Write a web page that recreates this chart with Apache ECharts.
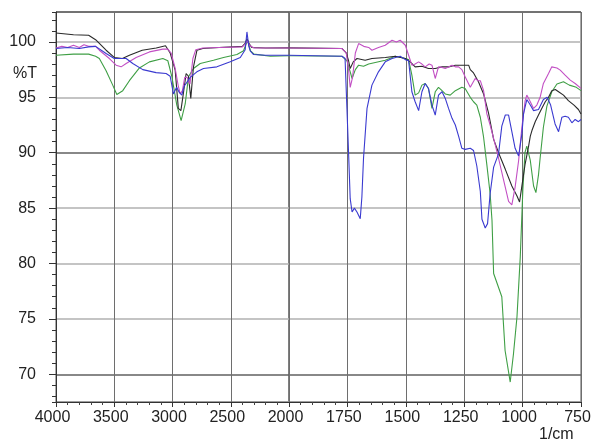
<!DOCTYPE html>
<html>
<head>
<meta charset="utf-8">
<title>IR spectrum</title>
<script src="https://cdn.jsdelivr.net/npm/echarts@6/dist/echarts.min.js"></script>
<style>
  html, body { margin: 0; padding: 0; background: #fff; }
  #chart { width: 595px; height: 444px; }
</style>
</head>
<body>
<div id="chart"></div>
<script>
  // x axis is split: 4000-2000 compressed, 2000-750 expanded (2x)
  const xTicksLeft = [4000, 3500, 3000, 2500, 2000]
  const xTicksRight = [2000, 1750, 1500, 1250, 1000, 750]
  const yTicks = [70, 75, 80, 85, 90, 95, 100]

  const blackWn = [4000, 3850, 3720, 3660, 3570, 3500, 3430, 3370, 3260, 3140, 3060, 3020, 2977, 2950, 2928, 2906, 2883, 2863, 2843, 2820, 2790, 2740, 2600, 2400, 2375, 2361, 2345, 2320, 2200, 2000,
    1773, 1755, 1745, 1738, 1725, 1709, 1674, 1645, 1588, 1545, 1502, 1481, 1460, 1431, 1403, 1374, 1345, 1317, 1288, 1231, 1224, 1210, 1189, 1167, 1146, 1124, 1103, 1074, 1046, 1024, 1013,
    1003, 989, 975, 967, 960, 946, 932, 918, 903, 889, 875, 860, 846, 825, 804, 780, 761, 750]
  const blackT = [100.8, 100.65, 100.6, 100.2, 99.25, 98.6, 98.5, 98.8, 99.25, 99.45, 99.65, 99.0, 97.45, 94.0, 93.8, 95.4, 97.15, 96.9, 94.9, 97.75, 99.25, 99.4, 99.5, 99.6, 99.9, 100.3, 99.9, 99.5, 99.45, 99.46,
    99.4, 99.0, 98.3, 97.6, 98.2, 98.5, 98.35, 98.5, 98.6, 98.7, 98.5, 98.2, 97.75, 97.8, 97.6, 97.6, 97.75, 97.75, 97.9, 97.9, 97.5, 97.2, 96.4, 95.3, 93.6, 91.2, 90.0, 88.5, 87.0, 86.1, 85.55,
    87.0, 89.0, 90.5, 91.5, 92.0, 92.8, 93.4, 94.0, 94.6, 95.0, 95.6, 95.7, 95.5, 95.2, 94.7, 94.3, 93.9, 93.5]

  const magentaWn = [4000, 3950, 3900, 3850, 3800, 3760, 3720, 3660, 3628, 3542, 3484, 3441, 3398, 3312, 3198, 3083, 3040, 3012, 2977, 2950, 2934, 2915, 2895, 2875, 2850, 2825, 2800, 2740, 2600, 2400, 2370, 2358, 2340, 2300, 2000,
    1773, 1755, 1745, 1738, 1728, 1716, 1702, 1680, 1659, 1645, 1617, 1588, 1559, 1540, 1524, 1502, 1488, 1474, 1460, 1445, 1431, 1417, 1400, 1388, 1374, 1360, 1345, 1331, 1302, 1288, 1274, 1260, 1246, 1224, 1203, 1190, 1181,
    1167, 1153, 1139, 1117, 1103, 1082, 1060, 1046, 1032, 1017, 1003, 989, 982, 967, 953, 939, 925, 911, 889, 875, 853, 839, 818, 796, 775, 750]
  const magentaT = [99.45, 99.6, 99.5, 99.7, 99.5, 99.75, 99.6, 99.6, 99.25, 98.5, 97.9, 97.75, 98.05, 98.6, 99.1, 99.35, 99.35, 99.0, 97.6, 96.0, 95.3, 95.6, 96.8, 96.8, 96.2, 98.5, 99.3, 99.45, 99.5, 99.55, 99.9, 100.1, 99.7, 99.45, 99.45,
    99.4, 99.0, 97.5, 95.9, 96.8, 99.0, 99.85, 99.6, 99.5, 99.25, 99.5, 99.7, 100.15, 100.0, 100.15, 99.7, 98.8, 97.9, 98.0, 98.2, 98.0, 97.75, 98.0, 97.9, 96.7, 97.75, 97.7, 97.6, 97.9, 97.75, 97.75, 97.5, 96.85, 95.9, 96.7, 96.5, 96.5,
    95.6, 93.5, 92.5, 90.7, 89.5, 87.6, 85.6, 85.3, 86.9, 89.3, 92.3, 94.7, 95.2, 94.6, 94.0, 94.3, 95.0, 96.25, 97.15, 97.75, 97.65, 97.45, 97.0, 96.55, 96.25, 95.8]

  const greenWn = [4000, 3850, 3720, 3660, 3628, 3570, 3513, 3478, 3427, 3370, 3284, 3198, 3083, 3040, 3006, 2963, 2926, 2891, 2863, 2820, 2762, 2648, 2562, 2447, 2390, 2356, 2330, 2300, 2160, 2000,
    1773, 1752, 1738, 1730, 1716, 1702, 1681, 1659, 1588, 1545, 1502, 1488, 1474, 1460, 1445, 1431, 1417, 1403, 1388, 1374, 1360, 1345, 1331, 1310, 1288, 1260, 1246, 1238, 1224, 1210, 1196, 1181,
    1167, 1153, 1139, 1131, 1124, 1089, 1075, 1053, 1039, 1024, 1010, 999, 990, 982, 967, 953, 943, 932, 925, 911, 896, 875, 853, 825, 800, 770, 750]
  const greenT = [98.8, 98.9, 98.9, 98.7, 98.5, 97.4, 96.1, 95.25, 95.6, 96.5, 97.65, 98.2, 98.5, 98.3, 96.9, 94.3, 92.9, 94.4, 96.85, 97.6, 98.05, 98.35, 98.6, 98.86, 99.2, 100.15, 99.2, 98.9, 98.7, 98.75,
    98.7, 98.3, 97.3, 96.7, 97.5, 97.9, 97.8, 98.0, 98.35, 98.7, 98.5, 98.4, 97.0, 95.2, 95.4, 96.1, 96.25, 95.8, 94.0, 95.5, 95.9, 95.6, 95.3, 95.2, 95.6, 95.9, 95.8, 95.7, 95.0, 94.6, 94.3, 93.2,
    91.4, 88.9, 86.3, 83.9, 79.1, 77.0, 72.15, 69.3, 71.85, 75.2, 80.6, 86.6, 90.0, 90.6, 89.3, 87.0, 86.4, 88.0, 89.5, 92.3, 94.2, 95.5, 96.2, 96.4, 96.1, 95.9, 95.6]

  const blueWn = [4000, 3900, 3800, 3720, 3660, 3570, 3500, 3398, 3341, 3255, 3141, 3055, 3020, 2992, 2965, 2945, 2920, 2900, 2880, 2848, 2791, 2734, 2619, 2504, 2418, 2376, 2361, 2345, 2333, 2304, 2200, 2000,
    1773, 1760, 1752, 1745, 1738, 1730, 1720, 1709, 1695, 1688, 1681, 1666, 1645, 1617, 1588, 1559, 1524, 1502, 1488, 1474, 1460, 1445, 1431, 1417, 1403, 1388, 1374, 1360, 1345, 1331, 1317, 1302, 1288, 1274, 1260, 1246, 1224, 1210,
    1196, 1181, 1174, 1160, 1150, 1139, 1124, 1103, 1089, 1074, 1060, 1046, 1032, 1017, 1003, 996, 982, 967, 953, 932, 911, 895, 880, 861, 846, 832, 818, 804, 789, 775, 761, 750]
  const blueT = [99.4, 99.5, 99.4, 99.55, 99.6, 98.95, 98.5, 98.5, 98.05, 97.5, 97.23, 97.15, 96.9, 95.3, 95.9, 95.5, 95.2, 96.0, 96.3, 96.8, 97.3, 97.6, 97.75, 98.2, 98.6, 99.3, 100.9, 99.6, 99.2, 98.86, 98.8, 98.8,
    98.7, 98.5, 94.0, 90.0, 85.85, 84.65, 85.0, 84.65, 84.05, 86.0, 89.5, 94.0, 96.1, 97.3, 98.2, 98.5, 98.7, 98.4, 98.3, 95.5, 94.6, 93.8, 95.5, 96.25, 95.8, 94.3, 93.4, 95.2, 95.5, 94.9, 94.0, 93.1, 92.5, 91.5, 90.4, 90.3, 90.4, 90.2,
    88.8, 86.5, 84.0, 83.2, 83.6, 86.3, 88.7, 89.9, 92.4, 93.4, 93.4, 91.9, 90.4, 89.7, 91.7, 93.5, 94.8, 94.3, 93.8, 93.9, 94.8, 95.0, 94.3, 92.6, 91.9, 93.2, 93.3, 93.2, 92.7, 93.0, 92.8, 93.0]

  const yMin = 67.5
  const yMax = 102.7
  const fontFamily = 'Liberation Sans, Arial, sans-serif'

  // split a spectrum into the part for each half of the x axis
  function part(wn, t, left) {
    const out = []
    for (let i = 0; i < wn.length; i++) {
      if (left ? wn[i] >= 2000 : wn[i] <= 2000) out.push([wn[i], t[i]])
    }
    return out
  }

  const spectra = [
    { name: 'green', color: '#3f9f45', wn: greenWn, t: greenT },
    { name: 'black', color: '#2a2a2a', wn: blackWn, t: blackT },
    { name: 'magenta', color: '#c24fc4', wn: magentaWn, t: magentaT },
    { name: 'blue', color: '#3a3ad0', wn: blueWn, t: blueT }
  ]

  const series = []
  spectra.forEach(function (s) {
    [true, false].forEach(function (left) {
      series.push({
        name: s.name,
        type: 'line',
        xAxisIndex: left ? 0 : 1,
        yAxisIndex: left ? 0 : 1,
        data: part(s.wn, s.t, left),
        symbol: 'none',
        lineStyle: { color: s.color, width: 1.1 },
        itemStyle: { color: s.color },
        z: 3
      })
    })
  })

  // 70 and 90 are drawn darker in the original
  const hLineColors = ['#9a9a9a', '#606060', '#b0b0b0', '#b0b0b0', '#b0b0b0', '#606060', '#b0b0b0', '#b0b0b0', '#606060']

  function xAxis(gridIndex, ticks, interval, hideMax) {
    return {
      type: 'value',
      gridIndex: gridIndex,
      inverse: true,
      min: Math.min.apply(null, ticks),
      max: Math.max.apply(null, ticks),
      interval: interval,
      axisLine: { show: true, lineStyle: { color: '#333', width: 1 } },
      axisTick: { show: true, length: 5, lineStyle: { color: '#333' } },
      minorTick: { show: true, splitNumber: 5, length: 3, lineStyle: { color: '#444' } },
      axisLabel: {
        fontSize: 16, color: '#222', fontFamily: fontFamily, margin: 8,
        padding: [0, 7, 0, 0], showMaxLabel: !hideMax,
        formatter: function (v) { return String(v) }
      },
      splitLine: { show: true, lineStyle: { color: '#6e6e6e', width: 1 } }
    }
  }

  const chart = echarts.init(document.getElementById('chart'))
  chart.setOption({
    animation: false,
    backgroundColor: '#fff',
    grid: [
      { left: 56, top: 12, width: 233, height: 390, show: true, borderColor: '#555', borderWidth: 1 },
      { left: 289, top: 12, width: 292, height: 390, show: true, borderColor: '#555', borderWidth: 1 }
    ],
    xAxis: [
      xAxis(0, xTicksLeft, 500, false),
      xAxis(1, xTicksRight, 250, true)
    ],
    yAxis: [{
      type: 'value', gridIndex: 0, position: 'left',
      min: yMin, max: yMax, splitNumber: 7, minInterval: 5, maxInterval: 5,
      axisLine: { show: true, lineStyle: { color: '#333' } },
      axisTick: { show: true, length: 7, lineStyle: { color: '#333' } },
      axisLabel: {
        fontSize: 16, color: '#222', fontFamily: fontFamily, margin: 20,
        showMinLabel: false, showMaxLabel: false,
        formatter: function (v) { return yTicks.indexOf(v) >= 0 ? String(v) : '' }
      },
      splitLine: { show: true, lineStyle: { color: hLineColors, width: 1.5 } }
    }, {
      type: 'value', gridIndex: 1,
      min: yMin, max: yMax, splitNumber: 7, minInterval: 5, maxInterval: 5,
      axisLine: { show: false }, axisTick: { show: false }, axisLabel: { show: false },
      splitLine: { show: true, lineStyle: { color: hLineColors, width: 1.5 } }
    }, {
      // minor ticks every 1 %T
      type: 'value', gridIndex: 0, position: 'left', offset: 0,
      min: yMin, max: yMax, splitNumber: 35, minInterval: 1, maxInterval: 1,
      axisLine: { show: false },
      axisTick: { show: true, length: 4, lineStyle: { color: '#333' } },
      axisLabel: { show: false },
      splitLine: { show: false }
    }],
    graphic: [
      { type: 'text', left: 13, top: 66, style: { text: '%T', fontSize: 16, fontFamily: fontFamily, fill: '#222' } },
      { type: 'text', left: 539, top: 427, style: { text: '1/cm', fontSize: 16, fontFamily: fontFamily, fill: '#222' } }
    ],
    series: series
  })
</script>
</body>
</html>
